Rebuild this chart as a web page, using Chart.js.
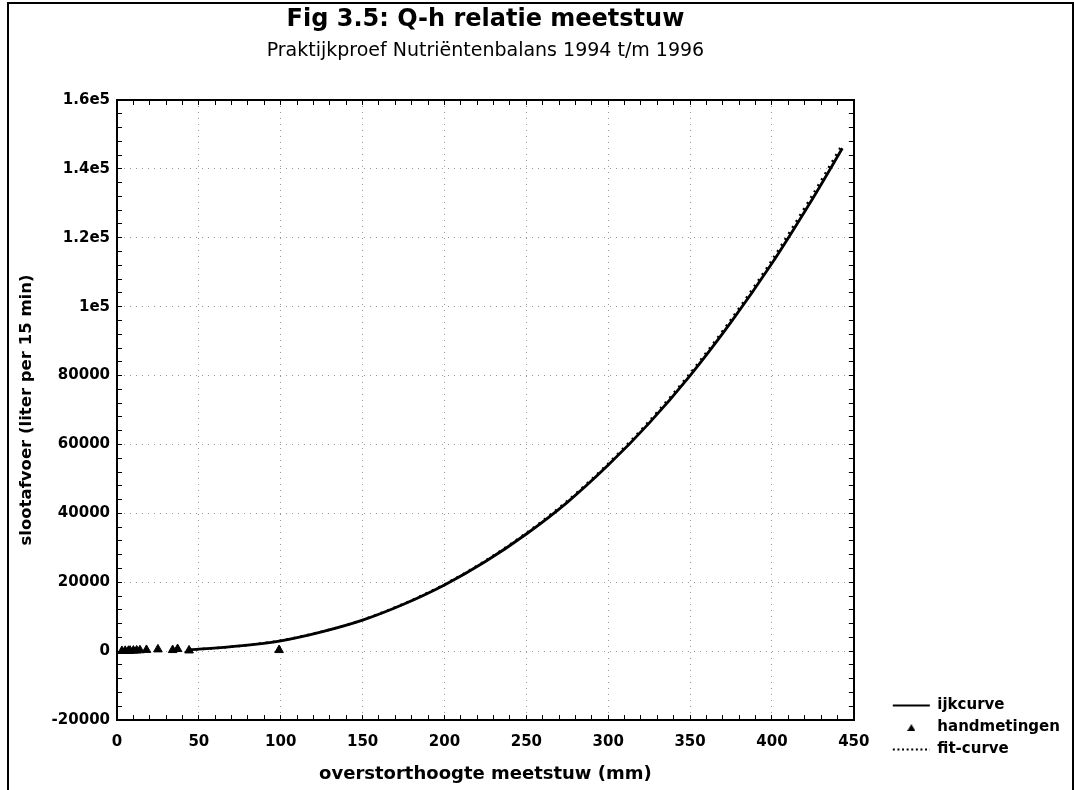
<!DOCTYPE html>
<html>
<head>
<meta charset="utf-8">
<script src="https://cdn.jsdelivr.net/npm/chart.js@4"></script>
<style>
    html, body { margin: 0; padding: 0; background: #fff; }
    #wrap { position: relative; width: 1074px; height: 790px; }
    #frame {
        position: absolute; left: 7px; top: 2px; width: 1063px; height: 800px;
        border-left: 2px solid #000; border-top: 2px solid #000; border-right: 2px solid #000;
        pointer-events: none;
    }
</style>
</head>
<body>
<div id="wrap">
    <canvas id="qh-chart"></canvas>
    <div id="frame"></div>
</div>
<script>
// overstorthoogte (mm) en afvoer (liter per 15 min)
const curveH = [44, 50, 75, 100, 125, 150, 175, 200, 225, 250, 275, 300, 325, 350, 375, 400, 425, 443];
const ijkQ   = [400, 550, 1500, 3000, 5600, 9000, 13600, 19200, 26000, 34000, 43200, 54000, 66200, 80000, 95500, 112600, 131500, 146000];
const fitQ   = [400, 550, 1500, 3050, 5650, 9080, 13720, 19380, 26230, 34300, 43570, 54450, 66750, 80650, 96250, 113500, 132600, 147100];

const handH = [3, 5, 7, 8, 10, 12, 14, 18, 25, 34, 37, 44, 99];
const handQ = [50, 80, 100, 120, 150, 200, 250, 350, 500, 300, 600, 200, 300];

const xTickLabels = ['0', '50', '100', '150', '200', '250', '300', '350', '400', '450'];
const yTickLabels = ['-20000', '0', '20000', '40000', '60000', '80000', '1e5', '1.2e5', '1.4e5', '1.6e5'];

const pts = (xs, ys) => xs.map((x, i) => ({ x, y: ys[i] }));

Chart.defaults.font.family = "'DejaVu Sans', sans-serif";
Chart.defaults.font.weight = 'bold';
Chart.defaults.color = '#000';

// klein driehoekje voor de legenda (pointStyle 'triangle' wordt daar uitgerekt)
const triangleIcon = document.createElement('canvas');
triangleIcon.width = 8;
triangleIcon.height = 7;
{
    const c = triangleIcon.getContext('2d');
    c.fillStyle = '#000';
    c.beginPath();
    c.moveTo(4, 0);
    c.lineTo(8, 7);
    c.lineTo(0, 7);
    c.closePath();
    c.fill();
}

const gridColor = (step) => (ctx) =>
    ctx.tick && ctx.tick.value % step === 0 ? '#9a9a9a' : 'rgba(0,0,0,0)';

const frameAxis = (extra) => Object.assign({
    type: 'linear',
    ticks: { display: false },
    grid: { drawOnChartArea: false, tickLength: -5, tickColor: '#000' },
    border: { display: true, color: '#000', width: 2 },
}, extra);

// legenda onderaan rechts zetten
const legendPlace = {
    id: 'legendPlace',
    afterLayout(chart) {
        const lg = chart.legend;
        lg.top -= 21;
        lg.bottom -= 21;
    },
};

new Chart(document.getElementById('qh-chart'), {
    type: 'line',
    data: {
        datasets: [
            {
                label: 'ijkcurve',
                data: pts(curveH, ijkQ),
                borderColor: '#000',
                backgroundColor: '#000',
                borderWidth: 2.8,
                pointRadius: 0,
                pointStyle: 'line',
                tension: 0.3,
            },
            {
                label: 'handmetingen',
                type: 'scatter',
                data: pts(handH, handQ),
                borderColor: '#000',
                backgroundColor: '#000',
                pointStyle: 'triangle',
                pointRadius: 5,
                borderWidth: 1,
            },
            {
                label: 'fit-curve',
                data: pts(curveH, fitQ),
                borderColor: '#000',
                backgroundColor: '#000',
                borderWidth: 2.5,
                borderDash: [2, 5],
                pointRadius: 0,
                pointStyle: 'line',
                tension: 0.3,
            },
        ],
    },
    plugins: [legendPlace],
    options: {
        responsive: true,
        maintainAspectRatio: false,
        animation: false,
        layout: { padding: { left: 0, right: 11, top: 0, bottom: 5 } },
        plugins: {
            title: {
                display: true,
                fullSize: false,
                text: 'Fig 3.5: Q-h relatie meetstuw',
                color: '#000',
                font: { size: 24, weight: 'bold' },
                padding: { top: 5, bottom: 3 },
            },
            subtitle: {
                display: true,
                fullSize: false,
                text: 'Praktijkproef Nutriëntenbalans 1994 t/m 1996',
                color: '#000',
                font: { size: 19, weight: 'normal' },
                padding: { top: 3, bottom: 37.4 },
            },
            legend: {
                position: 'right',
                align: 'end',
                labels: {
                    color: '#000',
                    font: { size: 15, weight: 'bold' },
                    usePointStyle: true,
                    pointStyleWidth: 37,
                    boxHeight: 6,
                    padding: 7,
                    generateLabels(chart) {
                        const items = Chart.defaults.plugins.legend.labels.generateLabels(chart);
                        items.forEach((it) => {
                            const ds = chart.data.datasets[it.datasetIndex];
                            if (ds.pointStyle === 'triangle') {
                                it.pointStyle = triangleIcon;
                            } else {
                                it.lineWidth = 2;
                                it.lineDash = ds.borderDash ? [2, 2.6] : [];
                            }
                        });
                        return items;
                    },
                },
            },
            tooltip: { enabled: false },
        },
        scales: {
            x: {
                type: 'linear',
                position: 'bottom',
                weight: 1,
                min: 0,
                max: 450,
                afterFit: (s) => { s.height = 65; },
                ticks: {
                    stepSize: 10,
                    autoSkip: false,
                    maxRotation: 0,
                    padding: 18,
                    font: { size: 15, weight: 'bold' },
                    callback: (v) => (v % 50 === 0 ? xTickLabels[v / 50] : ''),
                },
                grid: {
                    color: gridColor(50),
                    tickLength: -5,
                    tickColor: '#000',
                    tickBorderDash: [],
                },
                border: { display: true, color: '#000', width: 2, dash: [1, 5] },
                title: {
                    display: true,
                    text: 'overstorthoogte meetstuw (mm)',
                    font: { size: 18, weight: 'bold' },
                    padding: { top: 0, bottom: 0 },
                },
            },
            y: {
                type: 'linear',
                position: 'left',
                weight: 1,
                min: -20000,
                max: 160000,
                afterFit: (s) => { s.width = 117; },
                ticks: {
                    stepSize: 4000,
                    autoSkip: false,
                    padding: 12,
                    font: { size: 15, weight: 'bold' },
                    callback: (v) => (v % 20000 === 0 ? yTickLabels[(v + 20000) / 20000] : ''),
                },
                grid: {
                    color: gridColor(20000),
                    tickLength: -5,
                    tickColor: '#000',
                    tickBorderDash: [],
                },
                border: { display: true, color: '#000', width: 2, dash: [1, 5] },
                title: {
                    display: true,
                    text: 'slootafvoer (liter per 15 min)',
                    font: { size: 16.5, weight: 'bold' },
                    padding: { top: 17, bottom: 0 },
                },
            },
            xTop: frameAxis({
                position: 'top', min: 0, max: 450,
                ticks: { display: false, stepSize: 10 },
                afterFit: (s) => { s.height = 0; },
            }),
            yRight: frameAxis({
                position: 'right', min: -20000, max: 160000,
                ticks: { display: false, stepSize: 4000 },
                afterFit: (s) => { s.width = 32; },
            }),
        },
    },
});
</script>
</body>
</html>
